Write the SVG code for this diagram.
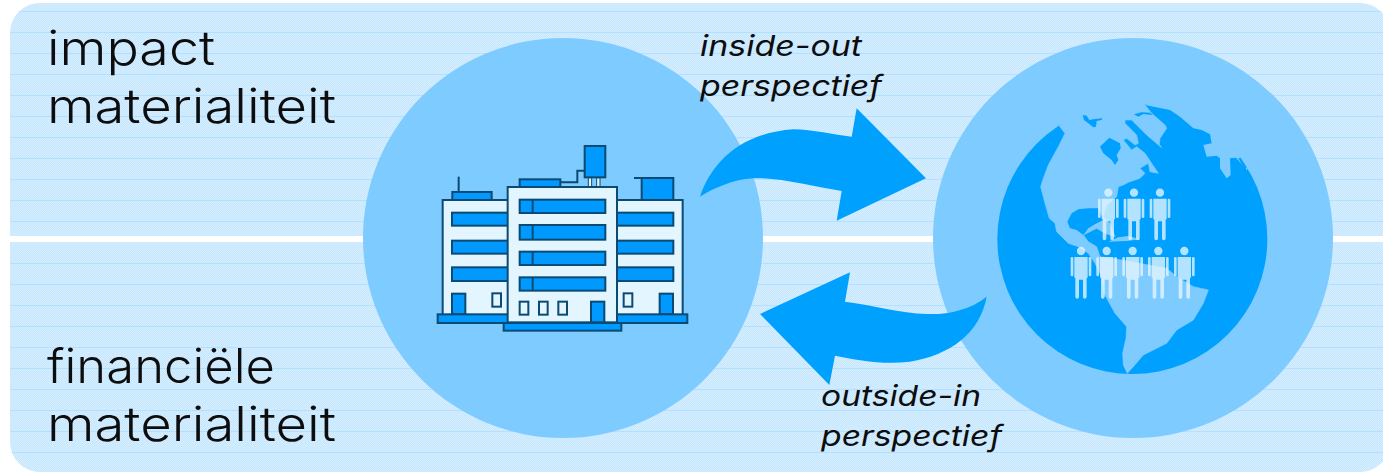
<svg xmlns="http://www.w3.org/2000/svg" width="1383" height="472" viewBox="0 0 1383 472">
<style>
.big{font-family:"Inter","Open Sans","Liberation Sans",sans-serif;font-weight:300;font-size:48px;fill:#0d0d0d}
.em{font-family:"Inter","Open Sans","Liberation Sans",sans-serif;font-style:italic;font-size:29px;fill:#0d0d0d}
.disc{fill:#7ecbff}
.dark{fill:#00a0ff}
.light{fill:#7ecbff}
.b{stroke:#0a4a73;stroke-width:6;fill:#e3f5ff}
.w{stroke:#0a4a73;stroke-width:6;fill:#0099ff}
.line{stroke:#0a4a73;stroke-width:6;fill:none}
.p{fill:#e6f6ff;fill-opacity:.78}
</style>
<defs>
<clipPath id="panel"><rect x="10" y="3" width="1380" height="469" rx="30"/></clipPath>
<pattern id="dither" width="2" height="2" patternUnits="userSpaceOnUse">
<rect width="2" height="2" fill="#c7e7ff"/>
<rect width="1" height="1" fill="#d4eeff"/>
<rect x="1" y="1" width="1" height="1" fill="#d4eeff"/>
</pattern>
<g id="person">
<circle cx="0" cy="0" r="12.500"/>
<path d="M-20,18H20V80H17V137Q17,143 11,143Q6,143 6,137V86H-6V137Q-6,143 -12,143Q-17,143 -17,137V80H-20Z"/>
<rect x="-31" y="18" width="8" height="58" rx="4"/>
<rect x="23" y="18" width="8" height="58" rx="4"/>
</g>
</defs>
<g id="background" clip-path="url(#panel)">
<rect x="10" y="3" width="1373" height="469" fill="url(#dither)"/>
<path d="M10 11.500H1383M10 32.500H1383M10 53.500H1383M10 74.500H1383M10 95.500H1383M10 116.500H1383M10 137.500H1383M10 158.500H1383M10 179.500H1383M10 200.500H1383M10 221.500H1383M10 263.500H1383M10 284.500H1383M10 305.500H1383M10 326.500H1383M10 347.500H1383M10 368.500H1383M10 389.500H1383M10 410.500H1383M10 431.500H1383M10 452.500H1383" stroke="#b3e0ff" stroke-width="1" fill="none"/>
<rect x="10" y="236" width="1373" height="6" fill="#ffffff"/>
</g>
<g id="company">
<circle class="disc" cx="563" cy="238" r="200"/>
<g transform="translate(420,130) scale(.33333)">
<path class="line" d="M116,185V140"/>
<rect class="w" x="97" y="186" width="118" height="24"/>
<rect class="w" x="665" y="144" width="95" height="66"/>
<path class="line" d="M642,144H680"/>
<rect class="w" x="299" y="148" width="122" height="23"/>
<path class="line" d="M421,157H472V122H494"/>
<path d="M505,143h10v27h-10zM530,143h10v27h-10z" fill="#e3f5ff" stroke="#0a4a73" stroke-width="3"/>
<rect class="w" x="494" y="48" width="62" height="94"/>
<rect class="b" x="68" y="210" width="720" height="345"/>
<rect class="w" x="96" y="248" width="170" height="39"/><rect class="w" x="96" y="332" width="170" height="39"/><rect class="w" x="96" y="412" width="170" height="41"/>
<rect class="w" x="590" y="248" width="170" height="39"/><rect class="w" x="590" y="332" width="170" height="39"/><rect class="w" x="590" y="412" width="170" height="41"/>
<rect class="w" x="96" y="491" width="40" height="62"/><rect class="w" x="719" y="491" width="40" height="62"/>
<rect class="b" x="217" y="490" width="26" height="40"/><rect class="b" x="611" y="490" width="26" height="40"/>
<rect class="w" x="53" y="553" width="749" height="26"/>
<rect class="b" x="263" y="171" width="328" height="406"/>
<rect class="w" x="299" y="209" width="257" height="40"/><rect class="w" x="299" y="285" width="257" height="44"/><rect class="w" x="299" y="365" width="257" height="40"/><rect class="w" x="299" y="442" width="257" height="40"/>
<path class="line" d="M338,209V249M338,285V329M338,365V405M338,442V482"/>
<rect class="b" x="299" y="515" width="26" height="39"/><rect class="b" x="357" y="515" width="26" height="39"/><rect class="b" x="415" y="515" width="26" height="39"/>
<rect class="w" x="513" y="515" width="40" height="62"/>
<rect class="w" x="251" y="579" width="353" height="23"/>
</g>
</g>
<g id="world">
<circle class="disc" cx="1133" cy="238" r="200"/>
<g transform="translate(990,90) scale(.33333)">
<circle class="dark" cx="427" cy="447" r="405"/>
<path class="light" stroke="#7ecbff" stroke-width="2" stroke-linejoin="round" d="M208,108L225,130L205,170L175,225L160,265L152,290L165,340L178,385L195,400L200,425L210,435L235,460L265,470L295,490L315,520L335,560L342,610L375,670L410,710L408,745L398,790L400,825L412,850L430,830L460,795L530,760L560,720L610,690L640,640L655,600L610,590L560,560L530,535L475,525L395,510L330,500L320,470L295,455L280,435L320,415L345,430L375,440L360,400L340,380L350,345L380,320L385,290L400,285L415,277L450,265L465,250L450,235L475,220L480,245L505,250L465,190L440,170L425,180L400,150L410,145L435,165L445,160L440,135L405,100L405,90L425,90L460,125L470,135L515,173L508,163L510,145L530,115L525,105L485,70L465,45L330,10Z"/>
<path class="light" d="M465,45L540,60L570,80L610,115L635,120L660,133L665,160L640,165L650,200L680,197L690,205L690,235L710,265L722,255L720,205L738,203L770,240L820,150L650,10Z"/>
<path class="dark" d="M278,75L290,77L298,90L315,87L337,85L335,90L320,93L318,110L310,112L295,100L282,90Z"/>
<path class="dark" d="M330,170L358,143L390,160L392,175L380,195L385,210L375,225L365,210L340,190Z"/>
<path class="dark" d="M432,73L455,67L480,68L488,75L460,72L445,80Z"/>
<path class="dark" d="M232,395L245,370L265,358L295,355L325,355L340,390L320,400L295,415L280,435L260,420L240,415Z"/>
<path class="light" d="M355,455L385,442L415,438L450,448L410,453Z"/>
<path class="dark" d="M745,205L752,203L770,232L765,240Z"/>
<use href="#person" class="p" x="355" y="308"/><use href="#person" class="p" x="432" y="308"/><use href="#person" class="p" x="510" y="308"/>
<use href="#person" class="p" x="273" y="483"/><use href="#person" class="p" x="350" y="483"/><use href="#person" class="p" x="428" y="483"/><use href="#person" class="p" x="505" y="483"/><use href="#person" class="p" x="583" y="483"/>
</g>
</g>
<g id="connectors">
<path class="dark" transform="translate(680,90) scale(.33333)" d="M60,320C90,230 170,130 340,118C400,118 460,135 515,140L530,55L738,265L470,392L485,303C400,290 300,262 220,265C160,268 100,295 60,320Z"/>
<path class="dark" transform="translate(750,260) scale(.33333)" d="M710,110C660,150 590,165 530,162C450,160 370,135 285,125L300,37L30,162L238,375L255,287C320,300 400,315 480,305C600,285 690,220 710,110Z"/>
</g>
<g id="labels">
<text class="big" x="47" y="65" textLength="168" lengthAdjust="spacingAndGlyphs">impact</text>
<text class="big" x="47" y="123" textLength="289" lengthAdjust="spacingAndGlyphs">materialiteit</text>
<text class="big" x="47" y="383" textLength="228" lengthAdjust="spacingAndGlyphs">financiële</text>
<text class="big" x="47" y="441" textLength="289" lengthAdjust="spacingAndGlyphs">materialiteit</text>
<text class="em" x="700" y="56" textLength="162" lengthAdjust="spacingAndGlyphs">inside-out</text>
<text class="em" x="700" y="96" textLength="182" lengthAdjust="spacingAndGlyphs">perspectief</text>
<text class="em" x="821" y="406" textLength="160" lengthAdjust="spacingAndGlyphs">outside-in</text>
<text class="em" x="821" y="446" textLength="181" lengthAdjust="spacingAndGlyphs">perspectief</text>
</g>
</svg>
